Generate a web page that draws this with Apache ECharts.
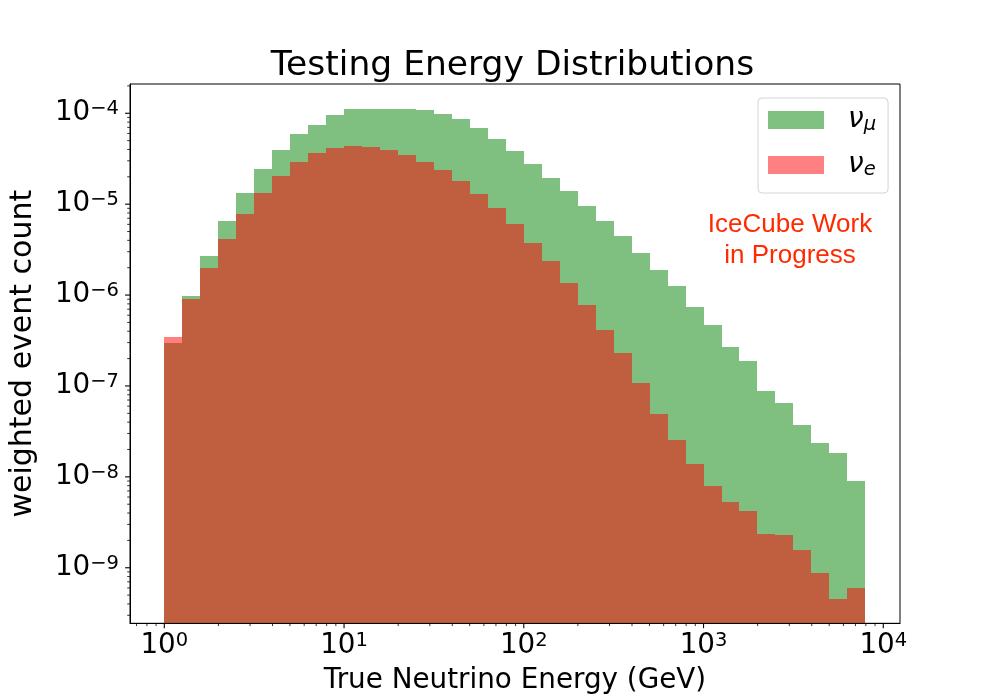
<!DOCTYPE html>
<html lang="en">
    <head>
        <meta charset="UTF-8" />
        <title>Testing Energy Distributions</title>
        <script src="https://cdn.jsdelivr.net/npm/echarts@6.0.0/dist/echarts.min.js"></script>
        <style>
            body,
            html {
                margin: 0;
                padding: 0;
                width: 100%;
                height: 100%;
                overflow: hidden;
                background-color: #fff;
            }
            #main {
                width: 1000px;
                height: 700px;
            }
        </style>
    </head>
    <body>
        <div id="main"></div>
        <script>
            // histogram bin edges (GeV), 0.1 decade wide
            const binEdges = [
                1, 1.259, 1.585, 1.995, 2.512, 3.162, 3.981, 5.012, 6.31, 7.943,
                10, 12.59, 15.85, 19.95, 25.12, 31.62, 39.81, 50.12, 63.1, 79.43,
                100, 125.9, 158.5, 199.5, 251.2, 316.2, 398.1, 501.2, 631, 794.3,
                1000, 1259, 1585, 1995, 2512, 3162, 3981, 5012, 6310, 7943,
            ]
            // weighted counts per bin
            const numuCounts = [
                2.97e-7, 9.8e-7, 2.69e-6, 6.53e-6, 1.33e-5, 2.44e-5, 3.94e-5, 5.92e-5, 7.43e-5, 9.57e-5,
                1.11e-4, 1.11e-4, 1.11e-4, 1.11e-4, 1.09e-4, 9.8e-5, 8.65e-5, 6.9e-5, 5.21e-5, 3.85e-5,
                2.77e-5, 1.94e-5, 1.4e-5, 9.55e-6, 6.53e-6, 4.47e-6, 2.9e-6, 1.89e-6, 1.26e-6, 7.4e-7,
                4.69e-7, 2.69e-7, 1.88e-7, 8.8e-8, 6.5e-8, 3.72e-8, 2.36e-8, 1.83e-8, 9.0e-9,
            ]
            const nueCounts = [
                3.46e-7, 9.06e-7, 2.0e-6, 4.14e-6, 7.8e-6, 1.33e-5, 2.04e-5, 2.91e-5, 3.66e-5, 4.15e-5,
                4.36e-5, 4.26e-5, 3.94e-5, 3.47e-5, 2.91e-5, 2.38e-5, 1.8e-5, 1.29e-5, 9.08e-6, 6.05e-6,
                3.74e-6, 2.37e-6, 1.36e-6, 7.78e-7, 4.13e-7, 2.31e-7, 1.08e-7, 4.92e-8, 2.55e-8, 1.39e-8,
                7.94e-9, 5.3e-9, 4.22e-9, 2.35e-9, 2.3e-9, 1.57e-9, 8.77e-10, 4.54e-10, 6.0e-10,
            ]
            const seriesNames = ["nu_mu", "nu_e"]
            const legendLabels = { nu_mu: "{n|ν}{s|μ}", nu_e: "{n|ν}{s|e}" }

            // axis ranges and ticks
            const xMin = 0.6443
            const xMax = 12390
            const yMin = 2.449e-10
            const yMax = 2.099e-4
            const xMajorTicks = [1, 10, 100, 1000, 10000]
            const yMajorTicks = [1e-9, 1e-8, 1e-7, 1e-6, 1e-5, 1e-4]
            const minorSteps = [2, 3, 4, 5, 6, 7, 8, 9]
            const xDecades = [0.1, 1, 10, 100, 1000]
            const yDecades = [1e-10, 1e-9, 1e-8, 1e-7, 1e-6, 1e-5, 1e-4]

            const font = "DejaVu Sans"

            function minorTicks(decades, lo, hi) {
                const out = []
                decades.forEach((d) => {
                    minorSteps.forEach((m) => {
                        const v = d * m
                        if (v > lo && v < hi) out.push(v)
                    })
                })
                return out
            }

            function binData(counts) {
                return counts.map((c, i) => [binEdges[i], binEdges[i + 1], c])
            }

            function renderBins(fill) {
                return function (params, api) {
                    const p0 = api.coord([api.value(0), api.value(2)])
                    const p1 = api.coord([api.value(1), api.value(2)])
                    const cs = params.coordSys
                    const left = Math.round(p0[0])
                    const right = Math.round(p1[0])
                    const top = Math.round(p0[1])
                    const bottom = Math.round(cs.y + cs.height)
                    return {
                        type: "rect",
                        shape: { x: left, y: top, width: right - left, height: bottom - top },
                        style: { fill: fill },
                    }
                }
            }

            function renderXTick(len, width) {
                return function (params, api) {
                    const p = api.coord([api.value(0), yMin])
                    const b = params.coordSys.y + params.coordSys.height
                    return {
                        type: "line",
                        shape: { x1: p[0], y1: b, x2: p[0], y2: b + len },
                        style: { stroke: "#000", lineWidth: width },
                    }
                }
            }

            function renderYTick(len, width) {
                return function (params, api) {
                    const p = api.coord([xMin, api.value(1)])
                    const l = params.coordSys.x
                    return {
                        type: "line",
                        shape: { x1: l - len, y1: p[1], x2: l, y2: p[1] },
                        style: { stroke: "#000", lineWidth: width },
                    }
                }
            }

            function powLabel(v) {
                const lg = Math.log10(v)
                const e = Math.round(lg)
                if (Math.abs(lg - e) > 1e-6) return ""
                return "{b|10}{s|" + String(e).replace("-", "\u2212") + "}"
            }

            const tickRich = {
                b: { fontFamily: font, fontSize: 27.8, lineHeight: 28, color: "#000", verticalAlign: "bottom" },
                s: { fontFamily: font, fontSize: 19.5, lineHeight: 18, color: "#000", verticalAlign: "top" },
            }

            const chart = echarts.init(document.getElementById("main"), null, { renderer: "canvas" })

            const option = {
                backgroundColor: "#fff",
                animation: false,
                title: {
                    text: "Testing Energy Distributions",
                    left: 512.5,
                    textAlign: "center",
                    top: 49,
                    padding: 0,
                    textStyle: { fontFamily: font, fontSize: 34.5, fontWeight: "normal", color: "#000", lineHeight: 34 },
                },
                grid: {
                    left: 125.5,
                    right: 100,
                    top: 84,
                    bottom: 76.7,
                    show: true,
                    borderColor: "#000",
                    borderWidth: 1,
                    backgroundColor: "transparent",
                },
                legend: {
                    data: [
                        { name: "nu_mu", itemStyle: { color: "#80c080" } },
                        { name: "nu_e", itemStyle: { color: "#ff8080" } },
                    ],
                    orient: "vertical",
                    left: 758,
                    top: 98,
                    padding: [8, 12, 13, 10],
                    itemWidth: 56,
                    itemHeight: 18,
                    itemGap: 16,
                    icon: "rect",
                    selectedMode: false,
                    backgroundColor: "#fff",
                    borderColor: "#d4d4d4",
                    borderWidth: 1,
                    borderRadius: 4,
                    formatter: (name) => legendLabels[name],
                    textStyle: {
                        rich: {
                            n: { fontFamily: font, fontStyle: "italic", fontSize: 28, lineHeight: 30, color: "#000", padding: [0, 0, 0, 19] },
                            s: { fontFamily: font, fontStyle: "italic", fontSize: 19.5, lineHeight: 14, color: "#000", verticalAlign: "bottom" },
                        },
                    },
                },
                xAxis: {
                    type: "log",
                    logBase: 10,
                    min: xMin,
                    max: xMax,
                    z: 3,
                    name: "True Neutrino Energy (GeV)",
                    nameLocation: "middle",
                    nameGap: 43,
                    nameTextStyle: { fontFamily: font, fontSize: 27.8, lineHeight: 28, color: "#000" },
                    axisLine: { show: true, lineStyle: { color: "#000", width: 1 } },
                    axisTick: { show: false },
                    splitLine: { show: false },
                    axisLabel: { margin: 8, formatter: powLabel, rich: tickRich },
                },
                yAxis: {
                    type: "log",
                    logBase: 10,
                    min: yMin,
                    max: yMax,
                    z: 3,
                    name: "weighted event count",
                    nameLocation: "middle",
                    nameGap: 92,
                    nameTextStyle: { fontFamily: font, fontSize: 30, lineHeight: 30, color: "#000" },
                    axisLine: { show: true, lineStyle: { color: "#000", width: 1 } },
                    axisTick: { show: false },
                    splitLine: { show: false },
                    axisLabel: { margin: 11, formatter: powLabel, rich: tickRich },
                },
                graphic: [
                    {
                        type: "text",
                        x: 790,
                        y: 209.5,
                        style: {
                            text: "IceCube Work\nin Progress",
                            fill: "#ff2a00",
                            font: "26px 'Liberation Sans'",
                            lineHeight: 31,
                            textAlign: "center",
                            textVerticalAlign: "top",
                        },
                    },
                ],
                series: [
                    {
                        name: seriesNames[0],
                        type: "custom",
                        silent: true,
                        itemStyle: { color: "#80c080" },
                        renderItem: renderBins("rgba(0,128,0,0.5)"),
                        encode: { x: [0, 1], y: 2 },
                        data: binData(numuCounts),
                        z: 1,
                    },
                    {
                        name: seriesNames[1],
                        type: "custom",
                        silent: true,
                        itemStyle: { color: "#ff8080" },
                        renderItem: renderBins("rgba(255,0,0,0.5)"),
                        encode: { x: [0, 1], y: 2 },
                        data: binData(nueCounts),
                        z: 1,
                    },
                    {
                        type: "custom",
                        silent: true,
                        renderItem: renderXTick(4.9, 1.1),
                        encode: { x: 0, y: 1 },
                        data: xMajorTicks.map((v) => [v, yMin]),
                    },
                    {
                        type: "custom",
                        silent: true,
                        renderItem: renderXTick(2.8, 0.8),
                        encode: { x: 0, y: 1 },
                        data: minorTicks(xDecades, xMin, xMax).map((v) => [v, yMin]),
                    },
                    {
                        type: "custom",
                        silent: true,
                        renderItem: renderYTick(4.9, 1.1),
                        encode: { x: 0, y: 1 },
                        data: yMajorTicks.map((v) => [xMin, v]),
                    },
                    {
                        type: "custom",
                        silent: true,
                        renderItem: renderYTick(2.8, 0.8),
                        encode: { x: 0, y: 1 },
                        data: minorTicks(yDecades, yMin, yMax).map((v) => [xMin, v]),
                    },
                ],
            }
            chart.setOption(option)
        </script>
    </body>
</html>
